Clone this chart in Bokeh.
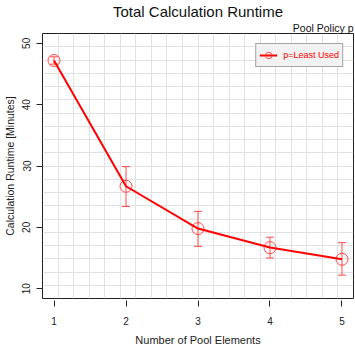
import numpy as np
from bokeh.plotting import figure
from bokeh.models import (ColumnDataSource, Whisker, TeeHead, Title, FixedTicker,
                          Range1d, Legend, LegendItem)
from bokeh.embed import file_html
from bokeh.resources import INLINE

# ---- data ----
pool_elements = [1, 2, 3, 4, 5]
runtime_mean = [47.2, 26.7, 19.8, 16.7, 14.8]
runtime_upper = [47.8, 29.9, 22.6, 18.4, 17.5]
runtime_lower = [46.6, 23.4, 16.9, 15.0, 12.2]
series_label = "p=Least Used"
x_ticks = [1, 2, 3, 4, 5]
y_ticks = [10, 20, 30, 40, 50]
title_text = "Total Calculation Runtime"
subtitle_text = "Pool Policy p"

FONT = "Liberation Sans"
RED = "#ff0000"
LIGHT_RED = "#ff4a4a"

x0, x1 = 0.84, 5.16
y0, y1 = 8.4, 51.6

p = figure(width=355, height=348, output_backend="svg", toolbar_location=None,
           x_range=Range1d(x0, x1), y_range=Range1d(y0, y1),
           min_border_left=42, min_border_right=2, min_border_top=0,
           min_border_bottom=44)
p.background_fill_color = "white"
p.border_fill_color = "white"
p.outline_line_color = "#222222"
p.outline_line_width = 1

# titles (subtitle nearest the frame, main title above it)
p.add_layout(Title(text=subtitle_text, align="right", text_font=FONT,
                   text_font_size="10.5px", text_font_style="normal",
                   text_color="#111111", standoff=0, offset=0), "above")
p.title.text = title_text
p.title.align = "center"
p.title.text_font = FONT
p.title.text_font_size = "15px"
p.title.text_font_style = "normal"
p.title.text_color = "#111111"
p.title.standoff = 0
p.title.text_line_height = 0.85

# grid: 20 equal divisions of the plotting area
p.xgrid.ticker = FixedTicker(ticks=list(np.linspace(x0, x1, 21)))
p.ygrid.ticker = FixedTicker(ticks=list(np.linspace(y0, y1, 21)))
for g in (p.xgrid[0], p.ygrid[0]):
    g.grid_line_color = "#e2e2e2"
    g.grid_line_width = 1

# axes
p.xaxis.ticker = FixedTicker(ticks=x_ticks)
p.yaxis.ticker = FixedTicker(ticks=y_ticks)
for ax in (p.xaxis[0], p.yaxis[0]):
    ax.axis_line_color = None
    ax.major_tick_in = 0
    ax.major_tick_out = 6
    ax.major_tick_line_color = "#222222"
    ax.minor_tick_line_color = None
    ax.major_label_text_font = FONT
    ax.major_label_text_font_size = "10px"
    ax.major_label_text_color = "#222222"
    ax.axis_label_text_font = FONT
    ax.axis_label_text_font_style = "normal"
    ax.axis_label_text_color = "#222222"
p.xaxis.axis_label = "Number of Pool Elements"
p.xaxis.axis_label_text_font_size = "11px"
p.xaxis.major_tick_in = -2
p.xaxis.major_tick_out = 8
p.xaxis.major_label_standoff = 10
p.xaxis.axis_label_standoff = 6
p.yaxis.axis_label = "Calculation Runtime [Minutes]"
p.yaxis.axis_label_text_font_size = "10.5px"
p.yaxis.major_label_orientation = "vertical"
p.yaxis.major_label_standoff = 6
p.yaxis.axis_label_standoff = 4

src = ColumnDataSource(dict(x=pool_elements, y=runtime_mean,
                            upper=runtime_upper, lower=runtime_lower))

w = Whisker(base="x", upper="upper", lower="lower", source=src,
            line_color=LIGHT_RED, line_width=1,
            upper_head=TeeHead(size=8, line_color=LIGHT_RED, line_width=1),
            lower_head=TeeHead(size=8, line_color=LIGHT_RED, line_width=1))
p.add_layout(w)

r_circ = p.scatter("x", "y", source=src, marker="circle", size=12,
                   fill_color=None, line_color=LIGHT_RED, line_width=1)
r_line = p.line("x", "y", source=src, line_color=RED, line_width=2)

legend = Legend(items=[LegendItem(label=series_label, renderers=[r_line, r_circ])],
                location="top_right")
legend.label_text_font = FONT
legend.label_text_font_size = "9px"
legend.label_text_color = RED
legend.background_fill_color = "#f2f2f2"
legend.background_fill_alpha = 1
legend.border_line_color = "#555555"
legend.border_line_width = 1
legend.padding = 3
legend.margin = 10
legend.glyph_width = 18
legend.glyph_height = 16
legend.label_height = 16
legend.label_standoff = 6
p.add_layout(legend)

open("out.html", "w").write(file_html(p, INLINE))
